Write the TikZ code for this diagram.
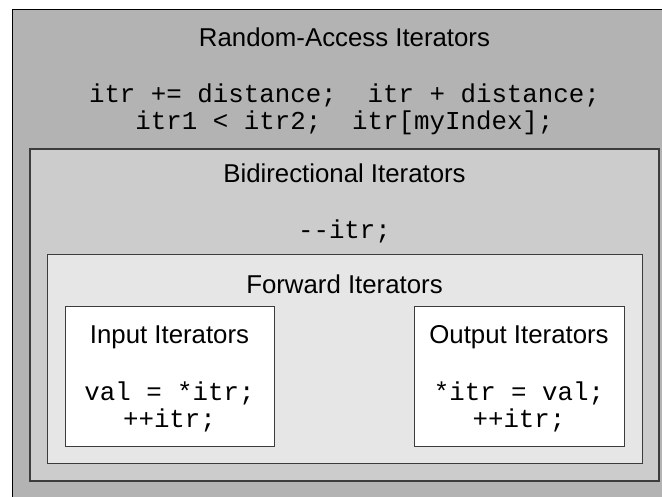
\documentclass[tikz,border=0pt]{standalone}
\usepackage{fontspec}
\setmainfont{Liberation Sans}
\setmonofont{Liberation Mono}

\definecolor{randomfill}{HTML}{B3B3B3}
\definecolor{bidifill}{HTML}{CCCCCC}
\definecolor{forwardfill}{HTML}{E6E6E6}
\definecolor{boxline}{HTML}{3C3C3C}

\begin{document}
\begin{tikzpicture}[
        x=1pt, y=-1pt,
        every node/.style={
                inner sep=0pt,
                font=\fontsize{25.8}{27}\selectfont,
            },
        box/.style={draw=boxline, line width=1pt},
        title/.style={anchor=base},
        code/.style={anchor=base, font=\fontsize{25.8}{27}\selectfont\ttfamily},]
    \useasboundingbox (0,0) rectangle (662,496);
    \fill[white] (0,0) rectangle (662,496);
    \clip (0,0) rectangle (662,496);
    % nested categories, outermost first
    \draw[box, draw=black, fill=randomfill] (12,9) rectangle (677,499);
    \draw[box, line width=1.4pt, fill=bidifill] (30,149) rectangle (659,481);
    \draw[box, fill=forwardfill] (47,254) rectangle (642,463);
    \draw[box, fill=white] (65,306) rectangle (274,446);
    \draw[box, fill=white] (414,306) rectangle (624,446);
    % random access
    \node[title] (randomTitle) at (344.5,46) {Random-Access Iterators};
    \node[code] (randomOpsA) at (344.5,102) {itr += distance;~ itr + distance;};
    \node[code] (randomOpsB) at (344.5,129) {itr1 < itr2;~ itr[myIndex];};
    % bidirectional
    \node[title] (bidiTitle) at (344.5,182) {Bidirectional Iterators};
    \node[code] (bidiOps) at (344.5,238) {--itr;};
    % forward
    \node[title] (forwardTitle) at (344.5,293) {Forward Iterators};
    % input and output
    \node[title] (inputTitle) at (169.5,343) {Input Iterators};
    \node[code] (inputOpsA) at (169.5,400) {val = *itr;};
    \node[code] (inputOpsB) at (169.5,427) {++itr;};
    \node[title] (outputTitle) at (519,343) {Output Iterators};
    \node[code] (outputOpsA) at (519,400) {*itr = val;};
    \node[code] (outputOpsB) at (519,427) {++itr;};
\end{tikzpicture}
\end{document}
